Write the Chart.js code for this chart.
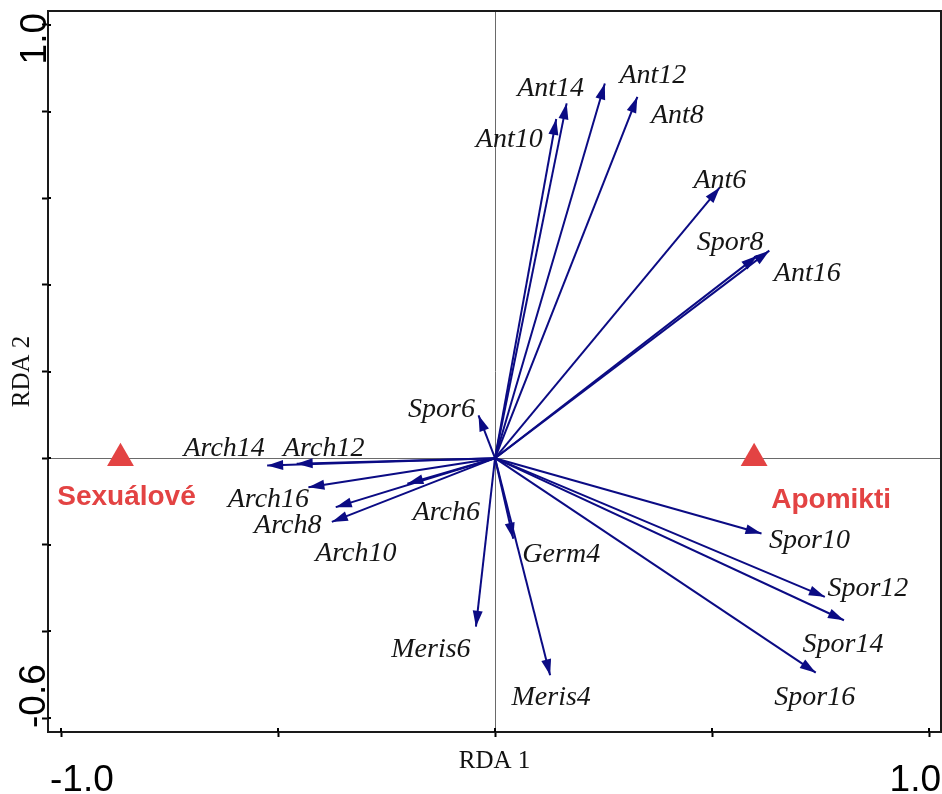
<!DOCTYPE html>
<html>
<head>
<meta charset="utf-8">
<title>RDA biplot</title>
<script src="https://cdn.jsdelivr.net/npm/chart.js@4.4.1/dist/chart.umd.min.js"></script>
<style>
  html, body { margin: 0; padding: 0; background: #ffffff; }
  canvas { display: block; }
</style>
</head>
<body>
<canvas id="rda" width="942" height="794"></canvas>
<script>
// Response variables drawn as arrows from the origin (RDA axis 1 / axis 2 scores)
const variables = ['Ant14', 'Ant10', 'Ant12', 'Ant8', 'Ant6', 'Spor8', 'Ant16', 'Spor6',
  'Arch14', 'Arch12', 'Arch16', 'Arch8', 'Arch10', 'Arch6', 'Meris6', 'Germ4', 'Meris4',
  'Spor10', 'Spor12', 'Spor14', 'Spor16'];
const rda1 = [0.165, 0.141, 0.253, 0.328, 0.518, 0.604, 0.632, -0.038,
  -0.525, -0.457, -0.430, -0.367, -0.376, -0.202, -0.044, 0.042, 0.127,
  0.614, 0.760, 0.804, 0.739];
const rda2 = [0.819, 0.783, 0.865, 0.834, 0.625, 0.467, 0.479, 0.099,
  -0.017, -0.013, -0.067, -0.113, -0.147, -0.059, -0.389, -0.186, -0.501,
  -0.174, -0.320, -0.374, -0.495];

// Explanatory classes (centroids, triangles)
const groups = ['Sexuálové', 'Apomikti'];
const groupRda1 = [-0.863, 0.597];
const groupRda2 = [0.0, 0.0];

// Axis ticks and the labelled ends of each axis
const xTickValues = [-1.0, -0.5, 0.0, 0.5, 1.0];
const yTickValues = [1.0, 0.8, 0.6, 0.4, 0.2, 0.0, -0.2, -0.4, -0.6];
const xEndLabels = ['-1.0', '1.0'];
const yEndLabels = ['1.0', '-0.6'];

// Styling
const ARROW_COLOR = '#0b0b84';
const GROUP_COLOR = '#e34343';
const LABEL_FONT = 'italic 28px "Liberation Serif", "Times New Roman", serif';
const GROUP_FONT = 'bold 28px "Liberation Sans", Arial, sans-serif';
const END_FONT = '37px "Liberation Sans", Arial, sans-serif';

// Label placement: pixel offset from the arrow tip to the text centre
const labelOffset = {
  Ant14: [-16, -17], Ant10: [-47, 19], Ant12: [48, -10], Ant8: [40, 17],
  Ant6: [0, -9], Spor8: [-27, -15], Ant16: [38, 21], Spor6: [-37, -8],
  Arch14: [-43, -19], Arch12: [27, -17], Arch16: [-40, 10], Arch8: [-48, 17],
  Arch10: [24, 30], Arch6: [39, 27], Meris6: [-45, 21], Germ4: [48, 14],
  Meris4: [1, 20], Spor10: [48, 5], Spor12: [43, -10], Spor14: [-1, 22],
  Spor16: [-1, 23]
};
const groupLabelOffset = { 'Sexuálové': [6, 37], 'Apomikti': [77, 40] };

const arrowDatasets = variables.map((name, i) => ({
  label: name,
  data: [{ x: 0, y: 0 }, { x: rda1[i], y: rda2[i] }],
  showLine: true,
  borderColor: ARROW_COLOR,
  borderWidth: 2,
  pointRadius: 0,
  pointHoverRadius: 0,
  isArrow: true
}));

const groupDataset = {
  label: 'groups',
  data: groups.map((g, i) => ({ x: groupRda1[i], y: groupRda2[i] })),
  pointStyle: 'triangle',
  pointRadius: 15.5,
  backgroundColor: GROUP_COLOR,
  borderColor: GROUP_COLOR,
  borderWidth: 0,
  showLine: false
};

// Arrowheads at the end of every variable vector
const arrowHeads = {
  id: 'arrowHeads',
  afterDatasetsDraw(chart) {
    const ctx = chart.ctx;
    const L = 16, W = 5;
    chart.data.datasets.forEach((ds, i) => {
      if (!ds.isArrow) return;
      const pts = chart.getDatasetMeta(i).data;
      const a = pts[0], b = pts[1];
      const ang = Math.atan2(b.y - a.y, b.x - a.x);
      const c = Math.cos(ang), s = Math.sin(ang);
      ctx.save();
      ctx.fillStyle = ARROW_COLOR;
      ctx.beginPath();
      ctx.moveTo(b.x, b.y);
      ctx.lineTo(b.x - L * c + W * s, b.y - L * s - W * c);
      ctx.lineTo(b.x - L * c - W * s, b.y - L * s + W * c);
      ctx.closePath();
      ctx.fill();
      ctx.restore();
    });
  }
};

// Variable names, class names, frame and the axis end values
const annotations = {
  id: 'annotations',
  afterDraw(chart) {
    const ctx = chart.ctx;
    const xs = chart.scales.x, ys = chart.scales.y;
    const area = chart.chartArea;
    ctx.save();

    // variable names
    ctx.font = LABEL_FONT;
    ctx.fillStyle = '#151515';
    ctx.textAlign = 'center';
    ctx.textBaseline = 'alphabetic';
    variables.forEach((name, i) => {
      const px = xs.getPixelForValue(rda1[i]);
      const py = ys.getPixelForValue(rda2[i]);
      const off = labelOffset[name];
      ctx.fillText(name, px + off[0], py + off[1] + 9.3);
    });

    // class names
    ctx.font = GROUP_FONT;
    ctx.fillStyle = GROUP_COLOR;
    groups.forEach((g, i) => {
      const px = xs.getPixelForValue(groupRda1[i]);
      const py = ys.getPixelForValue(groupRda2[i]);
      const off = groupLabelOffset[g];
      ctx.fillText(g, px + off[0], py + off[1] + 10);
    });

    // frame
    ctx.strokeStyle = '#1a1a1a';
    ctx.lineWidth = 2;
    ctx.strokeRect(area.left, area.top, area.right - area.left, area.bottom - area.top);

    // inner part of the tick marks
    ctx.lineWidth = 2;
    ctx.strokeStyle = '#000';
    ctx.beginPath();
    xTickValues.forEach(v => {
      const px = Math.round(xs.getPixelForValue(v));
      ctx.moveTo(px, area.bottom);
      ctx.lineTo(px, area.bottom - 4);
    });
    yTickValues.forEach(v => {
      const py = Math.round(ys.getPixelForValue(v));
      ctx.moveTo(area.left, py);
      ctx.lineTo(area.left + 3, py);
    });
    ctx.stroke();

    // axis end values
    ctx.font = END_FONT;
    ctx.fillStyle = '#000';
    ctx.textBaseline = 'alphabetic';
    ctx.textAlign = 'left';
    ctx.fillText(xEndLabels[0], area.left + 2, 791);
    ctx.textAlign = 'right';
    ctx.fillText(xEndLabels[1], area.right, 791);

    ctx.save();
    ctx.translate(46, area.top + 2);
    ctx.rotate(-Math.PI / 2);
    ctx.textAlign = 'right';
    ctx.fillText(yEndLabels[0], 0, 0);
    ctx.restore();

    ctx.save();
    ctx.translate(45, area.bottom - 4);
    ctx.rotate(-Math.PI / 2);
    ctx.textAlign = 'left';
    ctx.fillText(yEndLabels[1], 0, 0);
    ctx.restore();

    ctx.restore();
  }
};

const zeroOnly = (ctx) => (ctx.tick && ctx.tick.value === 0) ? '#6a6a6a' : 'rgba(0,0,0,0)';

new Chart(document.getElementById('rda'), {
  type: 'scatter',
  data: { datasets: [...arrowDatasets, groupDataset] },
  options: {
    responsive: false,
    animation: false,
    events: [],
    layout: { autoPadding: false, padding: { top: 11, right: 1, bottom: 0, left: 0 } },
    plugins: { legend: { display: false }, tooltip: { enabled: false } },
    scales: {
      x: {
        type: 'linear',
        min: -1.030,
        max: 1.0276,
        afterBuildTicks: (axis) => { axis.ticks = xTickValues.map(v => ({ value: v })); },
        afterFit: (scale) => { scale.height = 62; },
        ticks: { display: false },
        border: { display: false },
        grid: {
          drawOnChartArea: true,
          color: zeroOnly,
          lineWidth: 1,
          drawTicks: true,
          tickLength: 5,
          tickColor: '#000',
          tickWidth: 2
        },
        title: {
          display: true,
          text: 'RDA 1',
          color: '#111',
          font: { family: '"Liberation Serif", "Times New Roman", serif', size: 25 },
          padding: { top: 0, bottom: 18 }
        }
      },
      y: {
        type: 'linear',
        min: -0.632,
        max: 1.0322,
        afterBuildTicks: (axis) => { axis.ticks = yTickValues.map(v => ({ value: v })); },
        afterFit: (scale) => { scale.width = 48; },
        ticks: { display: false },
        border: { display: false },
        grid: {
          drawOnChartArea: true,
          color: zeroOnly,
          lineWidth: 1,
          drawTicks: true,
          tickLength: 6,
          tickColor: '#000',
          tickWidth: 2
        },
        title: {
          display: true,
          text: 'RDA 2',
          color: '#111',
          font: { family: '"Liberation Serif", "Times New Roman", serif', size: 25 },
          padding: { top: 7, bottom: 0 }
        }
      }
    }
  },
  plugins: [arrowHeads, annotations]
});
</script>
</body>
</html>
